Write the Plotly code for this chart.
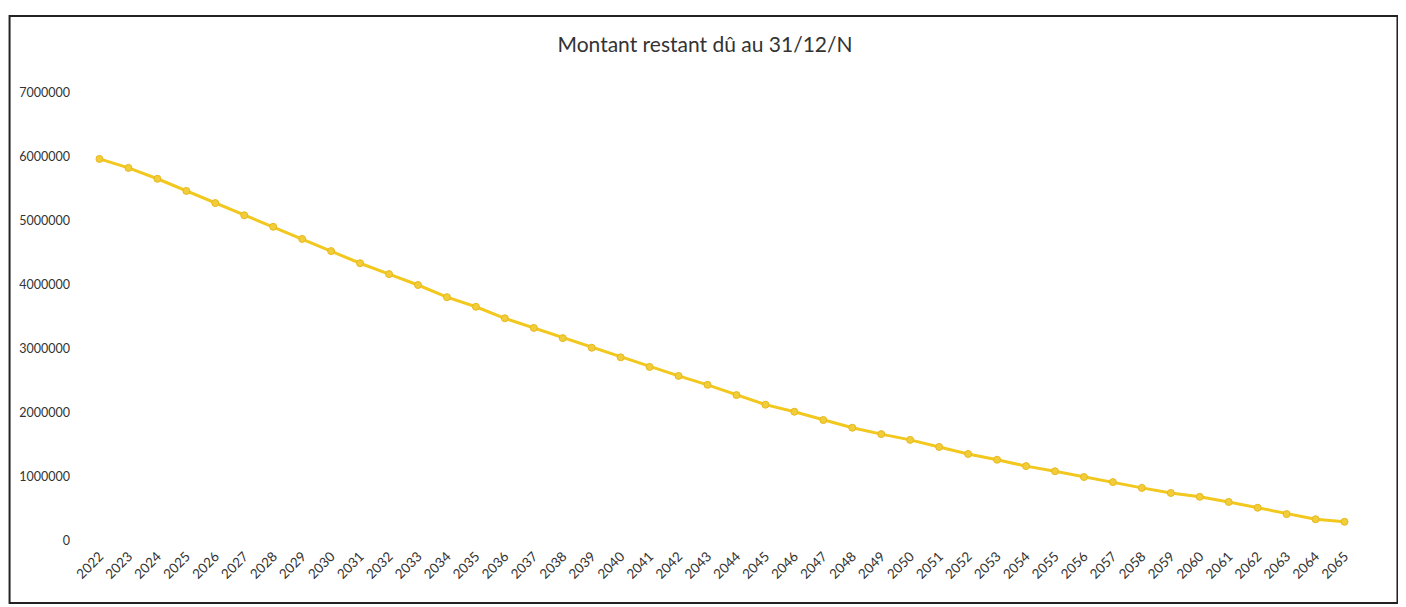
import plotly.graph_objects as go

years = [str(y) for y in range(2022, 2066)]
remaining = [
    5970000, 5830000, 5660000, 5470000, 5280000, 5090000, 4910000, 4720000,
    4530000, 4340000, 4170000, 4000000, 3810000, 3660000, 3480000, 3330000,
    3170000, 3020000, 2870000, 2720000, 2580000, 2440000, 2280000, 2130000,
    2020000, 1890000, 1770000, 1670000, 1580000, 1470000, 1360000, 1270000,
    1170000, 1090000, 1000000, 920000, 830000, 750000, 690000, 610000,
    520000, 420000, 340000, 300000,
]
y_ticks = [0, 1000000, 2000000, 3000000, 4000000, 5000000, 6000000, 7000000]
title_text = "Montant restant dû au 31/12/N"

W, H = 1406, 607
L, R, T, B = 76.5, 54.5, 85, 74
pw, ph = W - L - R, H - T - B

fig = go.Figure()
fig.add_trace(go.Scatter(
    x=years, y=remaining, mode="lines+markers",
    line=dict(color="#F2C81E", width=3),
    marker=dict(color="#F2CD3A", size=7, line=dict(color="#E8B820", width=1)),
    showlegend=False,
))

fig.update_layout(
    width=W, height=H,
    margin=dict(l=L, r=R, t=T, b=B, autoexpand=False),
    paper_bgcolor="white", plot_bgcolor="white",
    font=dict(family="Lato, 'Open Sans', sans-serif", color="#404040", size=12),
    title=dict(text=title_text, x=697 / W, xref="container", xanchor="center",
               y=1 - 37 / H, yref="container", yanchor="middle",
               font=dict(size=21, color="#333333")),
    xaxis=dict(type="category", tickangle=-45, showgrid=False, showline=False,
               ticks="", zeroline=False, automargin=False,
               range=[-0.5, len(years) - 0.5], ticklabelstandoff=4,
               tickfont=dict(size=13.5, color="#333333")),
    yaxis=dict(range=[0, 7000000], tickvals=y_ticks,
               ticktext=[str(v) for v in y_ticks], showgrid=False,
               zeroline=False, showline=False, ticks="", ticklabelstandoff=14,
               automargin=False, tickfont=dict(size=12.5, color="#333333")),
    shapes=[dict(type="rect", xref="paper", yref="paper",
                 x0=(1 - L) / pw, x1=(1390 - L) / pw,
                 y0=-(595 - (T + ph)) / ph, y1=1 + (T - 8) / ph,
                 line=dict(color="#222222", width=2))],
)

fig.write_html("out.html")
